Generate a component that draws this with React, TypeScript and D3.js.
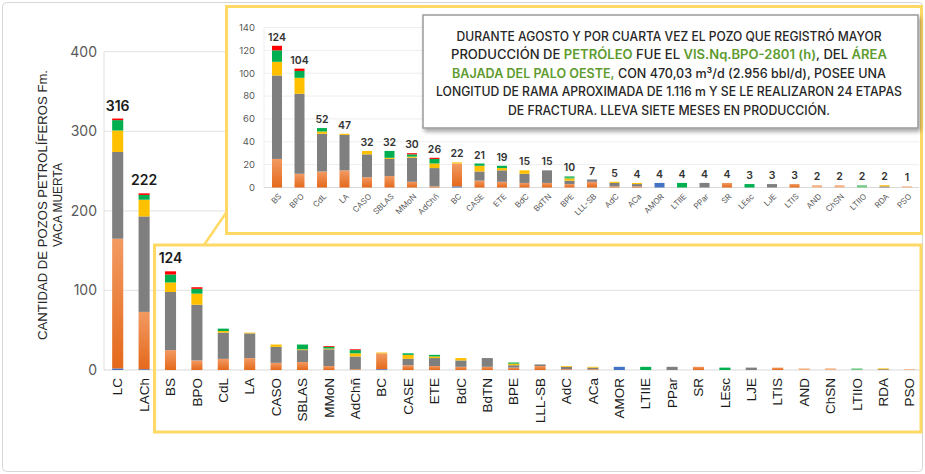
import * as d3 from "d3";

// categories (left to right)
const categories = ["LC", "LACh", "BS", "BPO", "CdL", "LA", "CASO", "SBLAS", "MMoN", "AdChñ", "BC", "CASE", "ETE", "BdC", "BdTN", "BPE", "LLL-SB", "AdC", "ACa", "AMOR", "LTIIE", "PPar", "SR", "LEsc", "LJE", "LTIS", "AND", "ChSN", "LTIIO", "RDA", "PSO"];

// stacked series, bottom to top
const blue = [2, 1, 0, 0, 0, 0, 0, 0, 0, 0, 1, 0, 0, 0, 0, 0, 0, 0, 0, 4, 0, 0, 0, 0, 0, 0, 0, 0, 0, 0, 0];
const orange = [163, 72, 25, 12, 14, 15, 9, 10, 5, 1, 20, 6, 5, 4, 4, 3, 5, 1, 1, 0, 0, 0, 4, 0, 0, 3, 0, 0, 0, 0, 0];
const paleOrange = [0, 0, 0, 0, 0, 0, 0, 0, 0, 0, 0, 0, 0, 0, 0, 0, 0, 0, 0, 0, 0, 0, 0, 0, 0, 0, 2, 2, 0, 0, 1];
const gray = [109, 120, 73, 70, 33, 31, 20, 15, 21, 16, 0, 8, 10, 8, 11, 3, 2, 3, 2, 0, 0, 4, 0, 0, 3, 0, 0, 0, 0, 1, 0];
const yellow = [27, 21, 12, 14, 2, 1, 3, 1, 1, 4, 1, 5, 2, 3, 0, 2, 0, 1, 1, 0, 0, 0, 0, 0, 0, 0, 0, 0, 0, 1, 0];
const green = [13, 6, 10, 6, 3, 0, 0, 6, 2, 4, 0, 2, 2, 0, 0, 1, 0, 0, 0, 0, 4, 0, 0, 3, 0, 0, 0, 0, 0, 0, 0];
const lightGreen = [0, 0, 0, 0, 0, 0, 0, 0, 0, 0, 0, 0, 0, 0, 0, 1, 0, 0, 0, 0, 0, 0, 0, 0, 0, 0, 0, 0, 2, 0, 0];
const red = [2, 2, 4, 2, 0, 0, 0, 0, 1, 1, 0, 0, 0, 0, 0, 0, 0, 0, 0, 0, 0, 0, 0, 0, 0, 0, 0, 0, 0, 0, 0];

const seriesKeys = ["blue", "orange", "paleOrange", "gray", "yellow", "green", "lightGreen", "red"];
const seriesValues = [blue, orange, paleOrange, gray, yellow, green, lightGreen, red];
const seriesColors = ["#4472C4", "url(#orangeGrad)", "#F4B183", "#7F7F7F", "#FFC000", "#00B050", "#6FCB86", "#FF0000"];

const mainTicks = [0, 100, 200, 300, 400];
const insetTicks = [0, 20, 40, 60, 80, 100, 120, 140];
const mainLabelled = ["LC", "LACh", "BS"];

const yTitle = ["CANTIDAD DE POZOS PETROLÍFEROS Fm.", "VACA MUERTA"];

// note box lines: [text, highlighted]
const noteLines = [
  [["DURANTE AGOSTO Y POR CUARTA VEZ EL POZO QUE REGISTRÓ MAYOR", false]],
  [["PRODUCCIÓN DE ", false], ["PETRÓLEO", true], [" FUE EL ", false], ["VIS.Nq.BPO-2801 (h)", true], [", DEL ", false], ["ÁREA", true]],
  [["BAJADA DEL PALO OESTE,", true], [" CON 470,03 m³/d (2.956 bbl/d), POSEE UNA", false]],
  [["LONGITUD DE RAMA APROXIMADA DE 1.116 m Y SE LE REALIZARON 24 ETAPAS", false]],
  [["DE FRACTURA. LLEVA SIETE MESES EN PRODUCCIÓN.", false]],
];
const noteWidths = [425, 436, 434, 466, 322];

const rows = categories.map((c, i) => {
  const r: any = { cat: c };
  seriesKeys.forEach((k, j) => (r[k] = seriesValues[j][i]));
  return r;
});
const totals = categories.map((_, i) => d3.sum(seriesValues, (s) => s[i]));
const stacked = d3.stack().keys(seriesKeys)(rows);

export default function App() {
  const width = 925;
  const height = 474;

  // main chart
  const x = d3.scaleBand().domain(categories).range([104.5, 922.9]).paddingInner(0.58).paddingOuter(0.29);
  const y = d3.scaleLinear().domain([0, 400]).range([370, 51.7]);

  // inset chart
  const insetCats = categories.slice(2);
  const xi = d3.scaleBand().domain(insetCats).range([265.75, 918.25]).paddingInner(0.556).paddingOuter(0.278);
  const yi = d3.scaleLinear().domain([0, 140]).range([187.5, 27.5]);

  const numFont = "Inter, 'Noto Sans', sans-serif";
  const labFont = "'Liberation Sans', Arial, sans-serif";

  return (
    <svg width={width} height={height} style={{ position: "absolute", left: 0, top: 0, background: "#fff" }}>
      <defs>
        <linearGradient id="orangeGrad" x1="0" y1="0" x2="0" y2="1">
          <stop offset="0" stopColor="#F29A62" />
          <stop offset="1" stopColor="#E4691C" />
        </linearGradient>
        <filter id="shadow" x="-5%" y="-10%" width="115%" height="130%">
          <feDropShadow dx="2" dy="3" stdDeviation="2" floodColor="#000" floodOpacity="0.35" />
        </filter>
      </defs>
      <rect x={2.5} y={2.5} width={920} height={469} rx={4} fill="#fff" stroke="#d6d6d6" />

      {/* main chart */}
      <g>
        {mainTicks.map((t) => (
          <g key={t}>
            {t > 0 && <line x1={104} x2={921} y1={y(t)} y2={y(t)} stroke="#e8e8e8" strokeWidth={1.2} />}
            <text x={97} y={y(t)} dy="0.35em" textAnchor="end" fontFamily={numFont} fontSize={14} fill="#595959">
              {t}
            </text>
          </g>
        ))}
        <line x1={104} x2={104} y1={51.7} y2={370} stroke="#e0e0e0" />
        <line x1={104} x2={921} y1={370} y2={370} stroke="#d9d9d9" strokeWidth={1.2} />
        {stacked.map((s, j) => (
          <g key={s.key} fill={seriesColors[j]}>
            {s.map((d, i) =>
              d[1] - d[0] > 0 ? (
                <rect key={i} x={x(categories[i])} width={x.bandwidth()} y={y(d[1])} height={y(d[0]) - y(d[1])} />
              ) : null
            )}
          </g>
        ))}
        {categories.map((c) => (
          <text key={c} transform={`translate(${x(c)! + x.bandwidth() / 2},378) rotate(-90)`} textAnchor="end" dy="0.35em" fontFamily={labFont} fontSize={13.5} fill="#1a1a1a">
            {c}
          </text>
        ))}
        {mainLabelled.map((c) => {
          const i = categories.indexOf(c);
          return (
            <text key={c} x={x(c)! + x.bandwidth() / 2} y={y(totals[i]) - 8} textAnchor="middle" fontFamily={numFont} fontWeight={600} fontSize={14} fill="#1a1a1a">
              {totals[i]}
            </text>
          );
        })}
        <text transform="translate(42,205) rotate(-90)" textAnchor="middle" dy="0.35em" fontFamily={labFont} fontSize={13} fill="#262626" textLength={270} lengthAdjust="spacingAndGlyphs">
          {yTitle[0]}
        </text>
        <text transform="translate(57,205) rotate(-90)" textAnchor="middle" dy="0.35em" fontFamily={labFont} fontSize={13} fill="#262626" textLength={84} lengthAdjust="spacingAndGlyphs">
          {yTitle[1]}
        </text>
      </g>

      {/* zoom highlight box and connector */}
      <rect x={154.5} y={245} width={766.5} height={187} fill="none" stroke="#FFD966" strokeWidth={3} />
      <line x1={204} y1={245} x2={226} y2={213} stroke="#FFD966" strokeWidth={2.5} />

      {/* inset chart */}
      <rect x={226.5} y={6.5} width={695} height={227} fill="#fff" stroke="#FFD966" strokeWidth={3} />
      <g>
        {insetTicks.map((t) => (
          <g key={t}>
            {t > 0 && <line x1={264} x2={919} y1={yi(t)} y2={yi(t)} stroke="#eeeeee" />}
            <text x={255} y={yi(t)} dy="0.35em" textAnchor="end" fontFamily={numFont} fontSize={9.5} fill="#595959">
              {t}
            </text>
          </g>
        ))}
        <line x1={264} x2={264} y1={yi(140)} y2={yi(0)} stroke="#eeeeee" />
        <line x1={264} x2={919} y1={yi(0)} y2={yi(0)} stroke="#d9d9d9" />
        {stacked.map((s, j) => (
          <g key={s.key} fill={seriesColors[j]}>
            {s.slice(2).map((d, i) =>
              d[1] - d[0] > 0 ? (
                <rect key={i} x={xi(insetCats[i])} width={xi.bandwidth()} y={yi(d[1])} height={yi(d[0]) - yi(d[1])} />
              ) : null
            )}
          </g>
        ))}
        {insetCats.map((c, i) => (
          <g key={c}>
            <text x={xi(c)! + xi.bandwidth() / 2} y={yi(totals[i + 2]) - 5} textAnchor="middle" fontFamily={numFont} fontWeight={600} fontSize={10.5} fill="#333">
              {totals[i + 2]}
            </text>
            <text transform={`translate(${xi(c)! + xi.bandwidth() / 2 + 3},195) rotate(-45)`} textAnchor="end" dy="0.35em" fontFamily={numFont} fontSize={8} fill="#595959">
              {c}
            </text>
          </g>
        ))}
      </g>

      {/* note box */}
      <rect x={423} y={15} width={495} height={113} fill="#fff" stroke="#9a9a9a" strokeWidth={1.5} filter="url(#shadow)" />
      {noteLines.map((line, li) => (
        <text key={li} x={669} y={40.5 + li * 18.5} textAnchor="middle" fontFamily={numFont} fontWeight={500} fontSize={12.5} fill="#262626" textLength={noteWidths[li]} lengthAdjust="spacingAndGlyphs">
          {line.map((seg: any, si: number) => (
            <tspan key={si} fill={seg[1] ? "#5E9B2E" : "#262626"} fontWeight={seg[1] ? 600 : 500}>
              {seg[0]}
            </tspan>
          ))}
        </text>
      ))}
    </svg>
  );
}
